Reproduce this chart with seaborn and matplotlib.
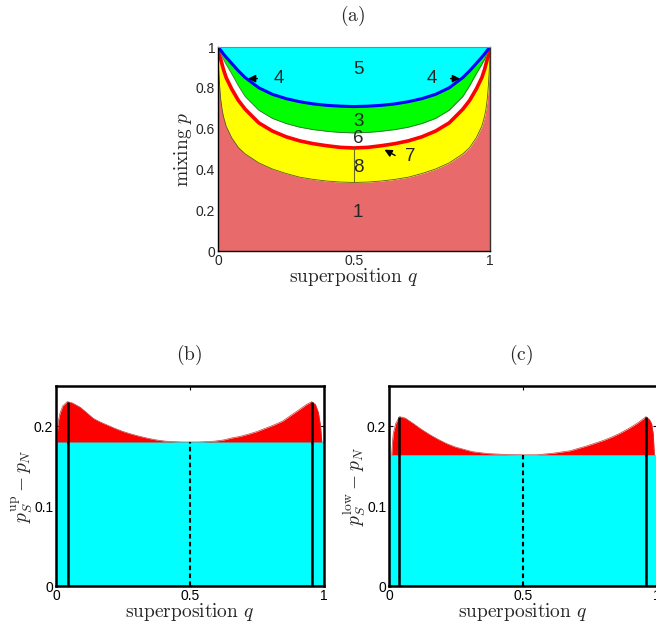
import numpy as np
import pandas as pd
import matplotlib
matplotlib.use("Agg")
import matplotlib.pyplot as plt
import seaborn as sns

# ---------------- data: panel (a) region boundaries ----------------
q_a = [0, 0.003, 0.006, 0.01, 0.015, 0.02, 0.03, 0.05, 0.075, 0.1, 0.15, 0.2, 0.25, 0.3,
       0.35, 0.4, 0.45, 0.5, 0.55, 0.6, 0.65, 0.7, 0.75, 0.8, 0.85, 0.9, 0.925, 0.95,
       0.97, 0.98, 0.985, 0.99, 0.994, 0.997, 1]
blue_p = [1.0, 0.995, 0.99, 0.984, 0.975, 0.966, 0.95, 0.92, 0.883, 0.85, 0.80, 0.768, 0.747,
          0.732, 0.721, 0.714, 0.710, 0.708, 0.710, 0.714, 0.721, 0.732, 0.747, 0.768, 0.80,
          0.85, 0.883, 0.92, 0.95, 0.966, 0.975, 0.984, 0.99, 0.995, 1.0]
green_low_p = [1.0, 0.99, 0.982, 0.97, 0.955, 0.94, 0.915, 0.87, 0.81, 0.757, 0.69, 0.65, 0.625,
               0.607, 0.595, 0.587, 0.581, 0.579, 0.581, 0.587, 0.595, 0.607, 0.625, 0.65, 0.69,
               0.757, 0.81, 0.87, 0.915, 0.94, 0.955, 0.97, 0.982, 0.99, 1.0]
red_p = [0.98, 0.965, 0.955, 0.94, 0.915, 0.89, 0.85, 0.795, 0.738, 0.695, 0.628, 0.588, 0.56,
         0.54, 0.526, 0.516, 0.508, 0.505, 0.508, 0.516, 0.526, 0.54, 0.56, 0.588, 0.628,
         0.695, 0.738, 0.795, 0.85, 0.89, 0.915, 0.94, 0.955, 0.965, 0.98]
yellow_low_p = [0.96, 0.88, 0.81, 0.745, 0.695, 0.66, 0.612, 0.556, 0.507, 0.476, 0.432, 0.402,
                0.38, 0.362, 0.351, 0.343, 0.338, 0.336, 0.338, 0.343, 0.351, 0.362, 0.38,
                0.402, 0.432, 0.476, 0.507, 0.556, 0.612, 0.66, 0.695, 0.745, 0.81, 0.88, 0.96]
region_labels = ["1", "8", "6", "3", "5"]
region_label_p = [0.19, 0.41, 0.55, 0.635, 0.89]

# ---------------- data: panel (b) ----------------
q_b = [0.003, 0.008, 0.015, 0.025, 0.042, 0.06, 0.09, 0.115, 0.139, 0.165, 0.189, 0.22, 0.251,
       0.28, 0.313, 0.345, 0.376, 0.41, 0.438, 0.47, 0.5, 0.53, 0.562, 0.59, 0.624, 0.655,
       0.687, 0.72, 0.749, 0.78, 0.811, 0.845, 0.873, 0.91, 0.935, 0.954, 0.968, 0.979,
       0.987, 0.992]
up_diff = [0.18, 0.205, 0.216, 0.225, 0.2304, 0.229, 0.2235, 0.2165, 0.2095, 0.205, 0.2015, 0.197,
           0.193, 0.19, 0.187, 0.1845, 0.1825, 0.181, 0.1805, 0.18, 0.18, 0.18, 0.1805, 0.181,
           0.1825, 0.185, 0.187, 0.19, 0.193, 0.197, 0.201, 0.206, 0.2125, 0.221, 0.227,
           0.2304, 0.227, 0.217, 0.2, 0.18]
up_base = 0.18
up_peaks_q = [0.045, 0.956]
up_peak = 0.2304

# ---------------- data: panel (c) ----------------
q_c = [0.01, 0.013, 0.016, 0.025, 0.039, 0.06, 0.091, 0.12, 0.153, 0.185, 0.215, 0.245, 0.277,
       0.31, 0.34, 0.37, 0.40, 0.45, 0.5, 0.551, 0.613, 0.675, 0.737, 0.8, 0.83, 0.862, 0.895,
       0.924, 0.945, 0.959, 0.972, 0.98, 0.986, 0.99]
low_diff = [0.164, 0.18, 0.191, 0.203, 0.2117, 0.21, 0.203, 0.196, 0.189, 0.183, 0.178, 0.174,
            0.171, 0.168, 0.1667, 0.1655, 0.165, 0.1642, 0.164, 0.164, 0.166, 0.169, 0.175,
            0.182, 0.186, 0.191, 0.197, 0.203, 0.208, 0.2117, 0.208, 0.203, 0.19, 0.164]
low_base = 0.164
low_peaks_q = [0.039, 0.96]
low_peak = 0.2117

x_ticks = [0, 0.5, 1]
x_ticklabels = ["0", "0.5", "1"]
ya_ticks = [0, 0.2, 0.4, 0.6, 0.8, 1]
ya_ticklabels = ["0", "0.2", "0.4", "0.6", "0.8", "1"]
yb_ticks = [0, 0.1, 0.2]
yb_ticklabels = ["0", "0.1", "0.2"]

# ---------------- style ----------------
sns.set_theme(style="ticks")
plt.rcParams["font.family"] = ["Liberation Sans", "DejaVu Sans"]
plt.rcParams["mathtext.fontset"] = "cm"

W, H = 656, 627
fig = plt.figure(figsize=(W / 100, H / 100), dpi=100)

def px_axes(x0, x1, ytop, ybot):
    return fig.add_axes([x0 / W, (H - ybot) / H, (x1 - x0) / W, (ybot - ytop) / H])

TICK_FS = 10
LABEL_FS = 14

def style_ticks(ax):
    ax.tick_params(direction="in", length=3, width=0.8, labelsize=TICK_FS, pad=2,
                   top=True, right=True, colors="black")

# ---------------- panel (a) ----------------
ax = px_axes(218, 490, 47, 251)
df_a = pd.DataFrame({"q": q_a, "blue": blue_p, "green": green_low_p,
                     "red": red_p, "yellow": yellow_low_p})
ax.fill_between(df_a.q, 0, df_a.yellow, color="#E96A6A", lw=0)
ax.fill_between(df_a.q, df_a.yellow, df_a.red, color="#FFFF00", lw=0)
ax.fill_between(df_a.q, df_a.red, df_a.green, color="white", lw=0)
ax.fill_between(df_a.q, df_a.green, df_a.blue, color="#00FF00", lw=0)
ax.fill_between(df_a.q, df_a.blue, 1, color="#00FFFF", lw=0)
sns.lineplot(data=df_a, x="q", y="yellow", ax=ax, color="#5a5a20", lw=0.6)
sns.lineplot(data=df_a, x="q", y="green", ax=ax, color="#3a6a3a", lw=0.6)
sns.lineplot(data=df_a, x="q", y="red", ax=ax, color="#FF0000", lw=2.6)
sns.lineplot(data=df_a, x="q", y="blue", ax=ax, color="#0000FF", lw=2.2)
ax.plot([0.5, 0.5], [yellow_low_p[17], red_p[17]], color="#6a6a20", lw=0.8)

for lab, pp in zip(region_labels, region_label_p):
    ax.text(0.515, pp, lab, ha="center", va="center", fontsize=13.5)
arrow_kw = dict(arrowstyle="-|>", color="black", lw=1.0, mutation_scale=11)
ax.text(0.225, 0.845, "4", ha="center", va="center", fontsize=13.5)
ax.annotate("", xy=(0.10, 0.845), xytext=(0.155, 0.845), arrowprops=arrow_kw)
ax.text(0.785, 0.845, "4", ha="center", va="center", fontsize=13.5)
ax.annotate("", xy=(0.90, 0.845), xytext=(0.845, 0.845), arrowprops=arrow_kw)
ax.text(0.705, 0.462, "7", ha="center", va="center", fontsize=13.5)
ax.annotate("", xy=(0.603, 0.503), xytext=(0.66, 0.462), arrowprops=arrow_kw)

ax.set_xlim(0, 1)
ax.set_ylim(0, 1)
ax.set_xticks(x_ticks, x_ticklabels)
ax.set_yticks(ya_ticks, ya_ticklabels)
ax.tick_params(direction="in", length=0, labelsize=TICK_FS, pad=2)
for s in ["left", "bottom"]:
    ax.spines[s].set_color("black")
    ax.spines[s].set_linewidth(1.0)
ax.spines["right"].set_color("#333333")
ax.spines["right"].set_linewidth(1.0)
ax.spines["top"].set_color("#1fb0b0")
ax.spines["top"].set_linewidth(0.8)
ax.set_xlabel(r"$\mathrm{superposition}\ q$", fontsize=LABEL_FS, labelpad=-1)
ax.set_ylabel(r"$\mathrm{mixing}\ p$", fontsize=LABEL_FS, labelpad=1)
fig.text(353 / W, 1 - 16 / H, r"$\mathrm{(a)}$", ha="center", va="center", fontsize=LABEL_FS)

# ---------------- panels (b) and (c) ----------------
def diff_panel(x0, x1, qq, vals, base, peaks_q, peak, ylabel, title, tx):
    ax = px_axes(x0, x1, 386, 586)
    d = pd.DataFrame({"q": qq, "v": vals})
    ax.fill_between([0, 1], 0, base, color="#00FFFF", lw=0)
    ax.fill_between(d.q, base, d.v, color="#FF0000", lw=0)
    sns.lineplot(data=d, x="q", y="v", ax=ax, color="#c04040", lw=0.5)
    ax.vlines(peaks_q, 0, peak, color="black", lw=1.8)
    ax.vlines([0.5], 0, base, color="black", lw=1.5, linestyles=(0, (2.2, 1.6)))
    ax.set_xlim(0, 1)
    ax.set_ylim(0, 0.25)
    ax.set_xticks(x_ticks, x_ticklabels)
    ax.set_yticks(yb_ticks, yb_ticklabels)
    style_ticks(ax)
    for s in ax.spines.values():
        s.set_color("black")
        s.set_linewidth(1.8)
    ax.set_xlabel(r"$\mathrm{superposition}\ q$", fontsize=LABEL_FS, labelpad=-1)
    ax.set_ylabel(ylabel, fontsize=LABEL_FS, labelpad=-1)
    fig.text(tx / W, 1 - 355 / H, title, ha="center", va="center", fontsize=LABEL_FS)
    return ax

diff_panel(56, 324, q_b, up_diff, up_base, up_peaks_q, up_peak,
           r"$p_S^{\mathrm{up}} - p_N$", r"$\mathrm{(b)}$", 189)
diff_panel(389, 657, q_c, low_diff, low_base, low_peaks_q, low_peak,
           r"$p_S^{\mathrm{low}} - p_N$", r"$\mathrm{(c)}$", 521)

fig.savefig("out.png", dpi=100)
